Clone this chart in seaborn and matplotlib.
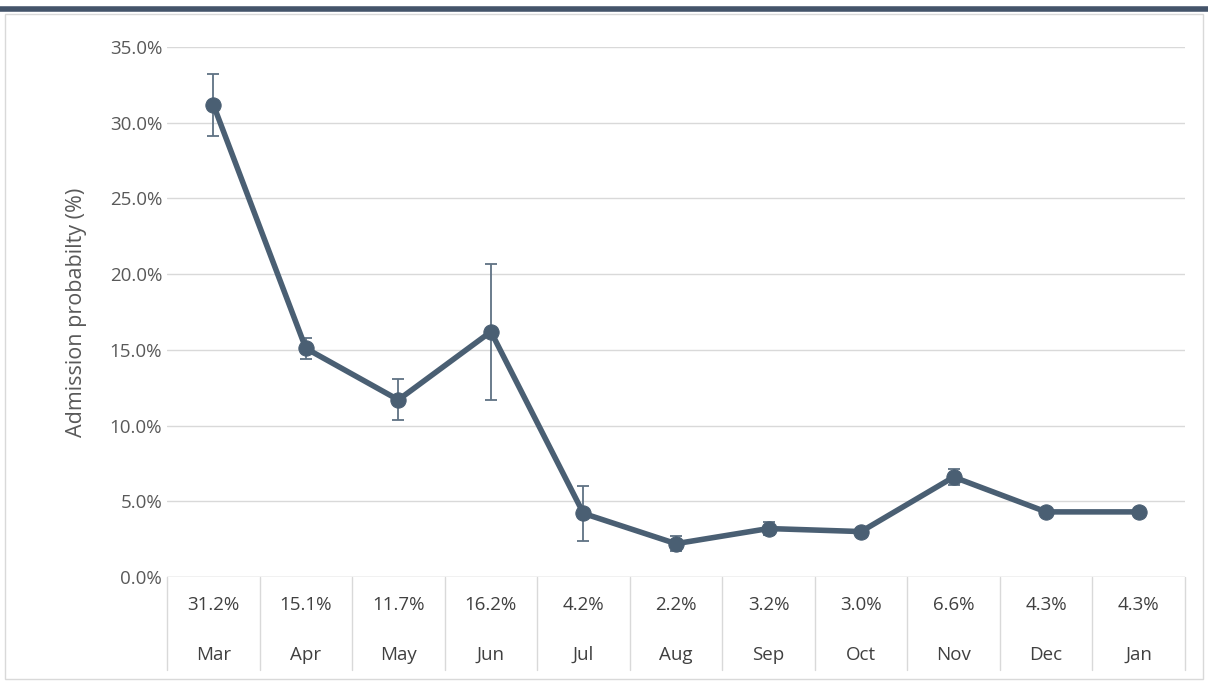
import numpy as np
import matplotlib
matplotlib.use("Agg")
import matplotlib.pyplot as plt
import seaborn as sns
import pandas as pd
from matplotlib.ticker import PercentFormatter

months = ["Mar", "Apr", "May", "Jun", "Jul", "Aug", "Sep", "Oct", "Nov", "Dec", "Jan"]
probability = [31.2, 15.1, 11.7, 16.2, 4.2, 2.2, 3.2, 3.0, 6.6, 4.3, 4.3]
err_low = [29.1, 14.4, 10.4, 11.7, 2.4, 1.7, 2.8, 2.8, 6.1, 4.1, 4.1]
err_high = [33.2, 15.8, 13.1, 20.7, 6.0, 2.7, 3.6, 3.2, 7.1, 4.5, 4.5]

color = "#4a5f73"
df = pd.DataFrame({"pos": np.arange(len(months)), "p": probability})

sns.set_style("white")
plt.rcParams["font.family"] = ["Open Sans", "DejaVu Sans"]

fig = plt.figure(figsize=(12.08, 6.82), dpi=100)
ax = fig.add_axes([167 / 1208, 1 - 577 / 682, (1185 - 167) / 1208, (577 - 47) / 682])

lo = np.array(probability) - np.array(err_low)
hi = np.array(err_high) - np.array(probability)
ax.errorbar(df["pos"], df["p"], yerr=[lo, hi], fmt="none", ecolor="#5f7284",
            elinewidth=1.3, capsize=4, capthick=1.3, zorder=2)
sns.lineplot(data=df, x="pos", y="p", ax=ax, color=color, linewidth=4,
             marker="o", markersize=11, markeredgecolor=color, zorder=3)

ax.set_xlim(-0.5, len(months) - 0.5)
ax.set_ylim(0, 35)
ax.set_yticks(np.arange(0, 36, 5))
ax.yaxis.set_major_formatter(PercentFormatter(decimals=1))
ax.tick_params(axis="y", labelsize=13.5, labelcolor="#595959", length=0)
ax.set_xticks([])
ax.set_xlabel("")
ax.set_ylabel("Admission probabilty (%)", fontsize=15.5, color="#595959", labelpad=16)
ax.grid(axis="y", color="#d9d9d9", linewidth=1)
for s in ax.spines.values():
    s.set_visible(False)
ax.axhline(0, color="#d9d9d9", linewidth=1)

# data table below the axis
row2 = -(670 - 577) / 15.143
for i, (m, v) in enumerate(zip(months, probability)):
    ax.text(i, -28 / 15.143, f"{v:.1f}%", ha="center", va="center", fontsize=13.5, color="#404040", clip_on=False)
    ax.text(i, -78 / 15.143, m, ha="center", va="center", fontsize=13.5, color="#404040", clip_on=False)
for b in np.arange(-0.5, len(months), 1.0):
    ax.plot([b, b], [0, row2], color="#d9d9d9", linewidth=1, clip_on=False)

fig.add_artist(plt.Line2D([0, 1], [1 - 9 / 682, 1 - 9 / 682], color="#44546a", linewidth=4))
fig.add_artist(plt.Rectangle((0.004, 0.004), 0.992, 0.975, fill=False, edgecolor="#d9d9d9", linewidth=1))

fig.savefig("out.png", dpi=100)
